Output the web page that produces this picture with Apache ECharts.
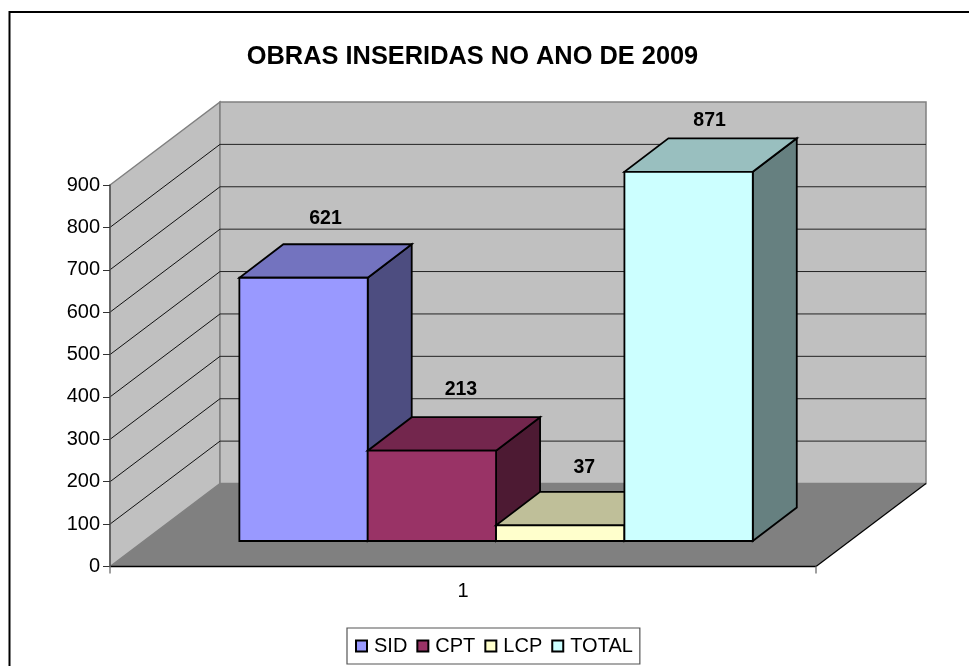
<!DOCTYPE html>
<html><head><meta charset="utf-8">
<style>html,body{margin:0;padding:0;background:#fff}#c{width:969px;height:666px}</style>
<script src="https://cdn.jsdelivr.net/npm/echarts@6/dist/echarts.min.js"></script>
</head><body><div id="c"></div>
<script>
const categories = ['1'];
const seriesNames = ['SID', 'CPT', 'LCP', 'TOTAL'];
const sid = [621];
const cpt = [213];
const lcp = [37];
const total = [871];
const yTicks = [0, 100, 200, 300, 400, 500, 600, 700, 800, 900];

// 3D projection, in pixels
const WALL_DX = 110, WALL_DY = 83;      // floor depth
const FRONT_DX = 33, FRONT_DY = 25.5;   // bar front plane behind axis plane
const BAR_DX = 44, BAR_DY = 33.5;       // bar depth
const BAR_START = 0.1365, BAR_FRAC = 0.1818; // fractions of category band

const faces = {
  SID:   {front:'#9999ff', top:'#7373bf', side:'#4d4d80', lx:22, ly:-59},
  CPT:   {front:'#993366', top:'#73264d', side:'#4d1a33', lx:29, ly:-61},
  LCP:   {front:'#ffffcc', top:'#bfbf99', side:'#808066', lx:24, ly:-58},
  TOTAL: {front:'#ccffff', top:'#99bfbf', side:'#668080', lx:21, ly:-51}
};
const values = {SID:sid, CPT:cpt, LCP:lcp, TOTAL:total};

function poly(pts, fill, stroke, lw){
  return {type:'polygon', shape:{points:pts},
    style:{fill:fill, stroke:stroke||null, lineWidth:lw||0}};
}
function line(a,b,stroke,lw){
  return {type:'line', shape:{x1:a[0],y1:a[1],x2:b[0],y2:b[1]},
    style:{stroke:stroke, lineWidth:lw||1, fill:null}};
}

function renderWalls(params, api){
  const band = api.size([1,0])[0];
  const c0 = api.coord([0,0]);
  const L = c0[0]-band/2, R = c0[0]+band/2, B = c0[1];
  const T = api.coord([0,yTicks[yTicks.length-1]])[1];
  const gray = '#808080';
  const ch = [
    poly([[L,B],[L+WALL_DX,B-WALL_DY],[L+WALL_DX,T-WALL_DY],[L,T]], '#c0c0c0', gray, 1.5),
    poly([[L+WALL_DX,B-WALL_DY],[R+WALL_DX,B-WALL_DY],[R+WALL_DX,T-WALL_DY],[L+WALL_DX,T-WALL_DY]], '#c0c0c0', gray, 1.5)
  ];
  yTicks.slice(1,-1).forEach(function(v){
    const y = api.coord([0,v])[1];
    ch.push(line([L,y],[L+WALL_DX,y-WALL_DY],'#111',1));
    ch.push(line([L+WALL_DX,y-WALL_DY],[R+WALL_DX,y-WALL_DY],'#222',1));
  });
  ch.push(poly([[L,B],[R,B],[R+WALL_DX,B-WALL_DY],[L+WALL_DX,B-WALL_DY]], '#808080'));
  ch.push(line([L,B],[R,B],'#000',1.5));
  ch.push(line([R,B],[R+WALL_DX,B-WALL_DY],'#000',1.2));
  return {type:'group', children:ch};
}

function barRenderer(name, idx){
  const f = faces[name];
  return function(params, api){
    const v = api.value(1);
    const band = api.size([1,0])[0];
    const c0 = api.coord([api.value(0),0]);
    const L = c0[0]-band/2;
    const x0 = L + band*(BAR_START + idx*BAR_FRAC) + FRONT_DX;
    const x1 = x0 + band*BAR_FRAC;
    const yb = c0[1]-FRONT_DY;
    const yt = api.coord([api.value(0),v])[1]-FRONT_DY;
    const k = 'black', w = 1.8;
    return {type:'group', children:[
      poly([[x1,yb],[x1+BAR_DX,yb-BAR_DY],[x1+BAR_DX,yt-BAR_DY],[x1,yt]], f.side, k, w),
      poly([[x0,yt],[x1,yt],[x1+BAR_DX,yt-BAR_DY],[x0+BAR_DX,yt-BAR_DY]], f.top, k, w),
      poly([[x0,yb],[x1,yb],[x1,yt],[x0,yt]], f.front, k, w),
      {type:'text', z2:50, style:{text:String(v), x:(x0+x1)/2+f.lx, y:yt+f.ly,
        align:'center', verticalAlign:'middle', fill:'#000',
        font:'bold 19.5px "Liberation Sans", Arial, sans-serif'}}
    ]};
  };
}

const font = '"Liberation Sans", Arial, sans-serif';
const barSeries = seriesNames.map(function(name, i){
  return {
    name:name, type:'custom', coordinateSystem:'cartesian2d', z:3+i,
    renderItem:barRenderer(name,i),
    encode:{x:0,y:1},
    itemStyle:{color:faces[name].front, borderColor:'#000', borderWidth:1.5},
    data: categories.map(function(c,j){return [j, values[name][j]];})
  };
});

const chart = echarts.init(document.getElementById('c'), null, {renderer:'canvas'});
chart.setOption({
  animation:false,
  backgroundColor:'#fff',
  title:{text:'OBRAS INSERIDAS NO ANO DE 2009', left:467.5, top:39, textAlign:'center',
    textStyle:{fontFamily:font, fontSize:25.4, fontWeight:'bold', color:'#000'}},
  grid:{left:110, top:185, width:706, height:381.5, containLabel:false},
  xAxis:{type:'category', data:categories, z:10,
    axisLine:{show:false},
    axisTick:{show:true, alignWithLabel:false, length:7, lineStyle:{color:'#808080', width:1.5}},
    axisLabel:{color:'#000', fontFamily:font, fontSize:20, margin:15}},
  yAxis:{type:'value', min:0, max:900, interval:100, z:10,
    axisLine:{show:true, lineStyle:{color:'#555', width:1.5}},
    axisTick:{show:true, length:7, lineStyle:{color:'#333', width:1}},
    axisLabel:{color:'#000', fontFamily:font, fontSize:20, margin:10},
    splitLine:{show:false}},
  legend:{data:seriesNames, left:347, top:628, orient:'horizontal', icon:'rect',
    itemWidth:11, itemHeight:11, itemGap:9, padding:[8,7,8,8],
    backgroundColor:'#fff', borderColor:'#555', borderWidth:1.2, borderRadius:0,
    selectedMode:false,
    textStyle:{fontFamily:font, fontSize:20, color:'#000', padding:[0,0,0,2]}},
  graphic:[{type:'rect', silent:true, z:-1, shape:{x:9.5,y:12,width:1000,height:700},
    style:{fill:null, stroke:'#000', lineWidth:2}}],
  series:[{
    name:'walls', type:'custom', coordinateSystem:'cartesian2d', z:1, silent:true,
    renderItem:renderWalls, encode:{x:0,y:1}, data:[[0,0]]
  }].concat(barSeries)
});
</script></body></html>
